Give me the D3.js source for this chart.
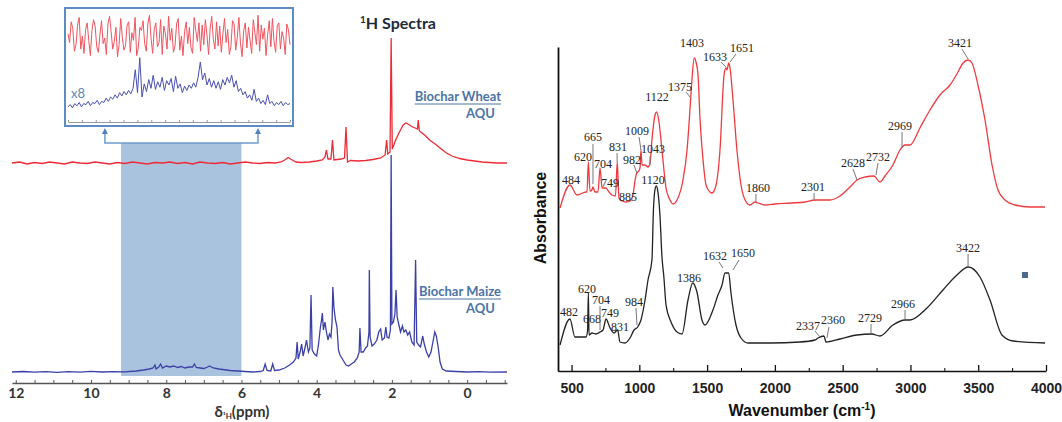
<!DOCTYPE html>
<html lang="en">
<head>
<meta charset="UTF-8">
<title>1H NMR and FTIR spectra of biochar</title>
<script src="https://d3js.org/d3.v7.min.js"></script>
<style>
  body { margin: 0; background: #fff; }
  svg { display: block; }
  .nmr-lbl { font-family: Lato, "Open Sans", sans-serif; font-weight: 700; }
  .peak { font-family: "Liberation Serif", serif; font-size: 12px; fill: #222; }
  .ir-axis text { font-family: "Liberation Sans", Arial, sans-serif; font-weight: 700; font-size: 14px; fill: #222; }
</style>
</head>
<body>
<div id="chart"></div>
<script>
// ---- 1H NMR data: [ppm, intensity] ----
const wheatNmr = [[12.1,2.19],[11.9,2.2],[11.7,2.18],[11.5,2.195],[11.3,2.185],[11.1,2.2],[10.9,2.19],[10.7,2.18],[10.5,2.2],[10.3,2.19],[10.1,2.185],[9.9,2.2],[9.7,2.19],[9.5,2.18],[9.3,2.195],[9.1,2.185],[8.9,2.2],[8.7,2.19],[8.5,2.18],[8.3,2.195],[8.1,2.19],[7.9,2.2],[7.7,2.185],[7.5,2.195],[7.3,2.18],[7.1,2.2],[6.9,2.19],[6.7,2.185],[6.5,2.195],[6.3,2.18],[6.1,2.19],[5.9,2.2],[5.7,2.19],[5.5,2.185],[5.3,2.195],[5.1,2.19],[4.95,2.2],[4.85,2.22],[4.76,2.245],[4.65,2.22],[4.55,2.2],[4.4,2.195],[4.2,2.2],[4.0,2.21],[3.85,2.22],[3.78,2.25],[3.74,2.32],[3.7,2.23],[3.62,2.23],[3.58,2.42],[3.54,2.22],[3.45,2.225],[3.35,2.23],[3.26,2.24],[3.22,2.55],[3.18,2.2],[3.1,2.215],[2.9,2.21],[2.7,2.215],[2.5,2.225],[2.3,2.24],[2.18,2.27],[2.14,2.42],[2.11,2.28],[2.05,2.3],[2.02,3.44],[1.99,2.33],[1.9,2.42],[1.8,2.5],[1.7,2.57],[1.63,2.59],[1.55,2.575],[1.45,2.55],[1.38,2.54],[1.32,2.53],[1.3,2.62],[1.27,2.51],[1.2,2.49],[1.1,2.46],[1.0,2.42],[0.85,2.38],[0.72,2.34],[0.55,2.29],[0.4,2.26],[0.2,2.235],[0.0,2.22],[-0.2,2.21],[-0.4,2.2],[-0.6,2.195],[-0.8,2.19],[-1.06,2.19]];

const maizeNmr = [[12.1,0.1],[11.8,0.105],[11.5,0.098],[11.2,0.104],[10.9,0.097],[10.6,0.103],[10.3,0.099],[10.0,0.106],[9.7,0.1],[9.4,0.104],[9.1,0.102],[8.8,0.11],[8.6,0.12],[8.45,0.13],[8.35,0.14],[8.3,0.17],[8.27,0.13],[8.2,0.15],[8.15,0.18],[8.1,0.14],[8.0,0.16],[7.9,0.15],[7.8,0.16],[7.7,0.145],[7.6,0.155],[7.5,0.14],[7.4,0.15],[7.3,0.15],[7.25,0.18],[7.2,0.145],[7.1,0.14],[7.0,0.135],[6.9,0.15],[6.85,0.16],[6.75,0.14],[6.6,0.13],[6.5,0.125],[6.3,0.115],[6.1,0.11],[5.9,0.105],[5.7,0.1],[5.5,0.105],[5.42,0.115],[5.37,0.18],[5.32,0.115],[5.22,0.11],[5.17,0.18],[5.12,0.115],[5.0,0.12],[4.85,0.14],[4.72,0.17],[4.62,0.2],[4.55,0.24],[4.52,0.4],[4.49,0.23],[4.44,0.3],[4.4,0.38],[4.36,0.26],[4.3,0.36],[4.27,0.42],[4.22,0.3],[4.18,0.34],[4.15,0.87],[4.12,0.32],[4.06,0.28],[4.0,0.26],[3.95,0.38],[3.9,0.55],[3.87,0.62],[3.85,0.69],[3.82,0.52],[3.78,0.6],[3.74,0.5],[3.7,0.42],[3.66,0.48],[3.62,0.45],[3.59,0.6],[3.57,0.95],[3.54,0.74],[3.5,0.62],[3.46,0.55],[3.42,0.32],[3.38,0.27],[3.3,0.22],[3.22,0.17],[3.15,0.16],[3.08,0.18],[3.0,0.2],[2.92,0.24],[2.87,0.3],[2.85,0.54],[2.82,0.3],[2.76,0.3],[2.7,0.34],[2.65,0.36],[2.61,0.5],[2.6,1.12],[2.58,0.45],[2.53,0.36],[2.47,0.38],[2.4,0.42],[2.35,0.5],[2.3,0.53],[2.26,0.42],[2.2,0.44],[2.16,0.55],[2.13,0.45],[2.08,0.44],[2.04,0.52],[2.02,2.27],[2.0,0.58],[1.96,0.6],[1.92,0.68],[1.89,0.92],[1.86,0.65],[1.82,0.58],[1.77,0.5],[1.72,0.56],[1.68,0.5],[1.63,0.52],[1.58,0.47],[1.53,0.5],[1.47,0.4],[1.41,0.37],[1.37,1.22],[1.34,0.4],[1.29,0.37],[1.24,0.35],[1.18,0.46],[1.14,0.38],[1.08,0.3],[1.02,0.25],[0.96,0.3],[0.9,0.42],[0.86,0.5],[0.82,0.46],[0.77,0.35],[0.72,0.2],[0.66,0.13],[0.55,0.11],[0.3,0.105],[0.0,0.1],[-0.3,0.104],[-0.6,0.099],[-1.06,0.1]];

// inset (x8 zoom of the shaded 9.2 - 6.0 ppm window), evenly sampled
const insetRange = [9.2, 6.0];
const insetWheat = [0.80,0.72,0.91,0.85,0.64,0.70,0.88,0.95,0.66,0.78,0.62,0.84,0.90,0.74,0.60,0.83,0.93,0.87,0.68,0.63,
  0.79,0.92,0.71,0.76,0.61,0.89,0.96,0.82,0.66,0.73,0.86,0.59,0.70,0.94,0.77,0.65,0.69,0.88,0.91,0.63,
  0.81,0.74,0.95,0.60,0.67,0.86,0.83,0.92,0.71,0.64,0.89,0.97,0.76,0.62,0.84,0.90,0.68,0.72,0.93,0.61,
  0.87,0.80,0.66,0.96,0.74,0.85,0.63,0.69,0.89,0.94,0.65,0.78,0.60,0.82,0.91,0.71,0.86,0.67,0.62,0.95,
  0.83,0.73,0.90,0.64,0.88,0.70,0.93,0.79,0.61,0.85,0.96,0.75,0.66,0.91,0.69,0.87,0.63,0.80,0.94,0.72,
  0.84,0.61,0.68,0.92,0.89,0.65,0.77,0.95,0.71,0.59,0.83,0.90,0.67,0.86,0.74,0.62,0.93,0.81,0.70,0.97,
  0.64,0.88,0.75,0.85,0.60,0.79,0.92,0.68,0.94,0.73,0.63,0.87,0.90,0.66,0.82,0.76,0.61,0.89,0.84,0.70];
const insetMaize = [0.13,0.15,0.12,0.16,0.14,0.17,0.13,0.16,0.15,0.18,0.14,0.17,0.16,0.19,0.15,0.18,0.17,0.21,0.18,0.22,0.20,0.24,0.21,0.26,0.23,0.27,0.24,0.28,0.25,0.30,0.47,0.26,0.58,0.22,0.34,0.27,0.38,0.30,0.42,0.29,0.36,0.31,0.40,0.28,0.37,0.33,0.39,0.27,0.41,0.30,0.34,0.26,0.32,0.28,0.33,0.30,0.35,0.31,0.40,0.54,0.38,0.44,0.33,0.39,0.31,0.37,0.30,0.36,0.29,0.38,0.33,0.40,0.35,0.42,0.31,0.37,0.27,0.30,0.24,0.27,0.21,0.24,0.19,0.29,0.18,0.21,0.16,0.19,0.15,0.24,0.16,0.18,0.14,0.17,0.15,0.18,0.14,0.17,0.15,0.16];

const nmrMajorTicks = [12, 10, 8, 6, 4, 2, 0];
const shadeLevels = [0.06, 2.39];       // vertical extent of shaded window (intensity units)
const bracketRange = [9.63, 5.56];      // arrow positions (ppm)

// ---- FTIR data: [wavenumber, absorbance] ----
const irWheat = [[415,0.815],[488,0.93],[540,0.88],[607,0.895],[614,0.895],[624,1.045],[636,0.9],[650,0.905],[658,0.92],[673,0.895],[695,0.895],[710,1.015],[725,0.915],[754,0.915],[776,0.895],[798,0.88],[824,0.875],[837,1.045],[850,0.865],[872,0.85],[902,0.845],[931,0.85],[953,0.88],[970,0.96],[981,0.99],[990,0.995],[1005,1.015],[1012,1.105],[1020,1.03],[1042,1.03],[1064,1.02],[1079,1.04],[1093,1.155],[1116,1.28],[1128,1.295],[1145,1.245],[1167,1.105],[1197,0.915],[1226,0.855],[1248,0.835],[1278,0.855],[1322,0.955],[1352,1.105],[1379,1.365],[1388,1.455],[1405,1.565],[1418,1.545],[1433,1.48],[1448,1.255],[1470,1.055],[1492,0.93],[1521,0.895],[1536,0.89],[1566,0.93],[1595,1.105],[1625,1.48],[1639,1.515],[1647,1.505],[1659,1.54],[1669,1.515],[1691,1.355],[1720,1.105],[1750,0.93],[1780,0.855],[1816,0.83],[1853,0.845],[1875,0.84],[1927,0.83],[2001,0.835],[2112,0.84],[2222,0.845],[2296,0.855],[2407,0.855],[2480,0.875],[2554,0.92],[2606,0.955],[2665,0.97],[2731,0.975],[2775,0.945],[2812,0.975],[2871,1.03],[2923,1.105],[2960,1.13],[2997,1.13],[3070,1.215],[3144,1.305],[3218,1.38],[3292,1.43],[3343,1.485],[3388,1.54],[3425,1.555],[3454,1.54],[3498,1.43],[3550,1.255],[3602,1.03],[3646,0.905],[3698,0.855],[3771,0.83],[3882,0.82],[3993,0.82]];

const irMaize = [[415,0.13],[488,0.26],[525,0.17],[607,0.17],[618,0.2],[624,0.39],[629,0.18],[651,0.19],[680,0.185],[710,0.195],[732,0.205],[754,0.26],[784,0.215],[813,0.19],[840,0.205],[857,0.145],[894,0.14],[931,0.165],[961,0.205],[988,0.22],[1012,0.255],[1042,0.355],[1064,0.455],[1093,0.555],[1104,0.805],[1115,0.905],[1126,0.925],[1137,0.895],[1152,0.78],[1167,0.57],[1181,0.47],[1197,0.33],[1234,0.245],[1278,0.195],[1315,0.185],[1359,0.355],[1394,0.44],[1425,0.395],[1462,0.255],[1484,0.23],[1543,0.305],[1580,0.38],[1610,0.43],[1632,0.49],[1659,0.49],[1676,0.39],[1713,0.23],[1750,0.165],[1802,0.14],[1964,0.14],[2185,0.145],[2296,0.155],[2318,0.165],[2362,0.175],[2377,0.145],[2480,0.16],[2606,0.18],[2714,0.185],[2775,0.175],[2871,0.23],[2960,0.255],[2997,0.255],[3122,0.315],[3240,0.405],[3343,0.48],[3427,0.52],[3513,0.47],[3587,0.355],[3675,0.18],[3757,0.15],[3993,0.14]];

const irTicks = [500, 1000, 1500, 2000, 2500, 3000, 3500, 4000];
const irMinorTicks = [750, 1250, 1750, 2250, 2750, 3250, 3750];

// peak labels: text, label wavenumber, label level, optional leader [wn1, v1, wn2, v2]
const irWheatLabels = [
  ["484", 496, 0.935], ["620", 584, 1.05], ["665", 658, 1.15, [658, 1.135, 658, 0.935]],
  ["704", 732, 1.015], ["749", 784, 0.92], ["831", 843, 1.10, [836, 1.09, 836, 1.045]],
  ["982", 946, 1.035, [961, 1.03, 981, 0.99]], ["1009", 983, 1.18, [998, 1.17, 1012, 1.105]],
  ["1043", 1101, 1.09, [1079, 1.075, 1079, 1.03]], ["885", 916, 0.85], ["1122", 1130, 1.35],
  ["1375", 1300, 1.40, [1344, 1.395, 1381, 1.365]], ["1403", 1389, 1.62],
  ["1633", 1558, 1.55, [1602, 1.545, 1639, 1.52]], ["1651", 1757, 1.595, [1713, 1.585, 1669, 1.545]],
  ["1860", 1875, 0.895, [1860, 0.885, 1860, 0.845]], ["2301", 2281, 0.90, [2289, 0.89, 2289, 0.855]],
  ["2628", 2576, 1.02, [2576, 1.01, 2606, 0.955]], ["2732", 2761, 1.05, [2761, 1.04, 2746, 0.98]],
  ["2969", 2923, 1.205, [2938, 1.195, 2938, 1.12]], ["3421", 3366, 1.62, [3380, 1.61, 3425, 1.56]]
];
const irMaizeLabels = [
  ["482", 481, 0.275], ["620", 614, 0.39], ["668", 651, 0.24],
  ["704", 717, 0.335, [710, 0.325, 710, 0.205]], ["749", 784, 0.27], ["831", 857, 0.20],
  ["984", 961, 0.325, [975, 0.315, 983, 0.23]], ["1120", 1101, 0.935], ["1386", 1366, 0.445],
  ["1632", 1558, 0.555, [1588, 0.545, 1617, 0.515]], ["1650", 1765, 0.57, [1735, 0.555, 1691, 0.505]],
  ["2337", 2244, 0.205, [2296, 0.20, 2333, 0.17]], ["2360", 2429, 0.235, [2399, 0.22, 2384, 0.165]],
  ["2729", 2702, 0.245, [2709, 0.235, 2709, 0.19]], ["2966", 2945, 0.315, [2960, 0.305, 2960, 0.26]],
  ["3422", 3425, 0.595, [3425, 0.585, 3425, 0.525]]
];
const irMarker = [3845, 0.48];

const svg = d3.select("#chart").append("svg")
    .attr("width", 1062)
    .attr("height", 422);

// ================= 1H NMR panel =================
const nmrX = d3.scaleLinear().domain([12.1, -1.06]).range([12, 507]);
const nmrY = d3.scaleLinear().domain([0, 3.8]).range([382, 2]);

// shaded window
svg.append("rect")
    .attr("x", nmrX(insetRange[0]))
    .attr("y", nmrY(shadeLevels[1]))
    .attr("width", nmrX(insetRange[1]) - nmrX(insetRange[0]))
    .attr("height", nmrY(shadeLevels[0]) - nmrY(shadeLevels[1]))
    .attr("fill", "#a9c2de");

// bracket + arrows up to the inset
const bY = nmrY(shadeLevels[1]);
const bl = nmrX(bracketRange[0]), br = nmrX(bracketRange[1]);
svg.append("path")
    .attr("d", `M${bl},${133}V${bY}H${br}V${133}`)
    .attr("fill", "none")
    .attr("stroke", "#6f9bcb")
    .attr("stroke-width", 1.5);
[bl, br].forEach(x => {
    svg.append("path")
        .attr("d", `M${x - 3},${134}L${x},${128}L${x + 3},${134}Z`)
        .attr("fill", "#4f82bd");
});

const nmrLine = d3.line().x(d => nmrX(d[0])).y(d => nmrY(d[1]));

svg.append("path")
    .datum(maizeNmr)
    .attr("d", nmrLine)
    .attr("fill", "none")
    .attr("stroke", "#3b40a8")
    .attr("stroke-width", 1.3);

svg.append("path")
    .datum(wheatNmr)
    .attr("d", nmrLine)
    .attr("fill", "none")
    .attr("stroke", "#ee2a36")
    .attr("stroke-width", 1.3);

// axis
const nmrAxis = d3.axisBottom(nmrX)
    .tickValues(d3.range(12, -1.01, -0.5))
    .tickFormat(d => nmrMajorTicks.includes(d) ? d : "")
    .tickSize(-3)
    .tickSizeOuter(0)
    .tickPadding(5);

const gNmr = svg.append("g")
    .attr("transform", "translate(0,383)")
    .call(nmrAxis);
gNmr.select(".domain").attr("stroke", "#555").attr("stroke-width", 1.6);
gNmr.selectAll(".tick line").attr("stroke", "#555");
gNmr.selectAll(".tick text")
    .attr("class", "nmr-lbl")
    .style("font-size", "14px")
    .attr("fill", "#333");

const nmrTitle = svg.append("text")
    .attr("class", "nmr-lbl")
    .attr("x", 242)
    .attr("y", 417)
    .attr("text-anchor", "middle")
    .attr("fill", "#333")
    .style("font-size", "15px");
nmrTitle.append("tspan").text("δ");
nmrTitle.append("tspan").attr("font-size", "8px").attr("dy", 2).text("¹H");
nmrTitle.append("tspan").attr("dy", -2).text("(ppm)");

// title
const ttl = svg.append("text")
    .attr("class", "nmr-lbl")
    .attr("x", 398)
    .attr("y", 29)
    .attr("text-anchor", "middle")
    .attr("fill", "#1d2b3a")
    .style("font-size", "16px");
ttl.append("tspan").attr("font-size", "10px").attr("dy", -6).text("1");
ttl.append("tspan").attr("dy", 6).text("H Spectra");

// sample labels
function sampleLabel(name, y) {
    const t = svg.append("text")
        .attr("class", "nmr-lbl")
        .attr("x", 501).attr("y", y)
        .attr("text-anchor", "end")
        .attr("fill", "#4a74a6")
        .style("font-size", "13px")
        .text(name);
    const w = t.node().getComputedTextLength();
    svg.append("line")
        .attr("x1", 501 - w).attr("x2", 501)
        .attr("y1", y + 3).attr("y2", y + 3)
        .attr("stroke", "#4a74a6").attr("stroke-width", 1.2);
    svg.append("text")
        .attr("class", "nmr-lbl")
        .attr("x", 495).attr("y", y + 17)
        .attr("text-anchor", "end")
        .attr("fill", "#4a74a6")
        .style("font-size", "13px")
        .text("AQU");
}
sampleLabel("Biochar Wheat", 101);
sampleLabel("Biochar Maize", 296);

// inset
svg.append("rect")
    .attr("x", 65).attr("y", 8)
    .attr("width", 228).attr("height", 118)
    .attr("fill", "#fff")
    .attr("stroke", "#5d8cc5")
    .attr("stroke-width", 2);

const insetX = d3.scaleLinear().domain(insetRange).range([68, 290]);
const insetY = d3.scaleLinear().domain([0, 1]).range([121, 12]);
const insetLine = d3.line()
    .x((d, i, arr) => insetX(insetRange[0] + (insetRange[1] - insetRange[0]) * i / (arr.length - 1)))
    .y(d => insetY(d));

svg.append("path")
    .datum(insetWheat)
    .attr("d", insetLine)
    .attr("fill", "none")
    .attr("stroke", "#f0545e")
    .attr("stroke-width", 1);

svg.append("path")
    .datum(insetMaize)
    .attr("d", insetLine)
    .attr("fill", "none")
    .attr("stroke", "#4a4fb2")
    .attr("stroke-width", 1);

const gIn = svg.append("g")
    .attr("transform", "translate(0,122)")
    .call(d3.axisBottom(insetX).ticks(14).tickSize(-2).tickSizeOuter(0).tickFormat(""));
gIn.select(".domain").attr("stroke", "#999");
gIn.selectAll(".tick line").attr("stroke", "#999");

svg.append("text")
    .attr("x", 71).attr("y", 98)
    .attr("fill", "#5a86b8")
    .style("font-family", "Lato, sans-serif")
    .style("font-size", "13px")
    .text("x8");

// ================= FTIR panel =================
const irX = d3.scaleLinear().domain([400, 4000]).range([558, 1046]);
const irY = d3.scaleLinear().domain([0, 1.62]).range([371, 47]);

const irLine = d3.line()
    .x(d => irX(d[0]))
    .y(d => irY(d[1]))
    .curve(d3.curveMonotoneX);

svg.append("path")
    .datum(irWheat)
    .attr("d", irLine)
    .attr("fill", "none")
    .attr("stroke", "#f03a3e")
    .attr("stroke-width", 1.3);

svg.append("path")
    .datum(irMaize)
    .attr("d", irLine)
    .attr("fill", "none")
    .attr("stroke", "#222")
    .attr("stroke-width", 1.3);

function drawLabels(list) {
    list.forEach(l => {
        if (l[3]) {
            svg.append("line")
                .attr("x1", irX(l[3][0])).attr("y1", irY(l[3][1]))
                .attr("x2", irX(l[3][2])).attr("y2", irY(l[3][3]))
                .attr("stroke", "#777").attr("stroke-width", 1);
        }
        svg.append("text")
            .attr("class", "peak")
            .attr("x", irX(l[1]))
            .attr("y", irY(l[2]))
            .attr("text-anchor", "middle")
            .text(l[0]);
    });
}
drawLabels(irWheatLabels);
drawLabels(irMaizeLabels);

svg.append("rect")
    .attr("x", irX(irMarker[0]) - 3)
    .attr("y", irY(irMarker[1]) - 3)
    .attr("width", 6).attr("height", 6)
    .attr("fill", "#4a6a88");

// axes
const gIrMinor = svg.append("g")
    .attr("transform", "translate(0,371)")
    .call(d3.axisBottom(irX).tickValues(irMinorTicks).tickSize(-3).tickFormat(""));
gIrMinor.select(".domain").remove();

const gIrX = svg.append("g")
    .attr("class", "ir-axis")
    .attr("transform", "translate(0,371)")
    .call(d3.axisBottom(irX).tickValues(irTicks).tickFormat(d3.format("d"))
        .tickSize(-6).tickSizeOuter(0).tickPadding(12));
gIrX.select(".domain").attr("stroke", "#111").attr("stroke-width", 1.6);
gIrX.selectAll(".tick line").attr("stroke", "#111").attr("stroke-width", 1.3);

const gIrY = svg.append("g")
    .attr("transform", "translate(558,0)")
    .call(d3.axisLeft(irY).tickValues([]).tickSizeOuter(0));
gIrY.select(".domain").attr("stroke", "#111").attr("stroke-width", 1.8);

const xl = svg.append("text")
    .attr("x", 802).attr("y", 416)
    .attr("text-anchor", "middle")
    .style("font-family", "'Liberation Sans', Arial, sans-serif")
    .style("font-weight", "700")
    .style("font-size", "16px")
    .attr("fill", "#111");
xl.append("tspan").text("Wavenumber (cm");
xl.append("tspan").attr("font-size", "10px").attr("dy", -6).text("-1");
xl.append("tspan").attr("dy", 6).text(")");

svg.append("text")
    .attr("transform", "translate(546,218) rotate(-90)")
    .attr("text-anchor", "middle")
    .style("font-family", "'Liberation Sans', Arial, sans-serif")
    .style("font-weight", "700")
    .style("font-size", "16px")
    .attr("fill", "#111")
    .text("Absorbance");
</script>
</body>
</html>
